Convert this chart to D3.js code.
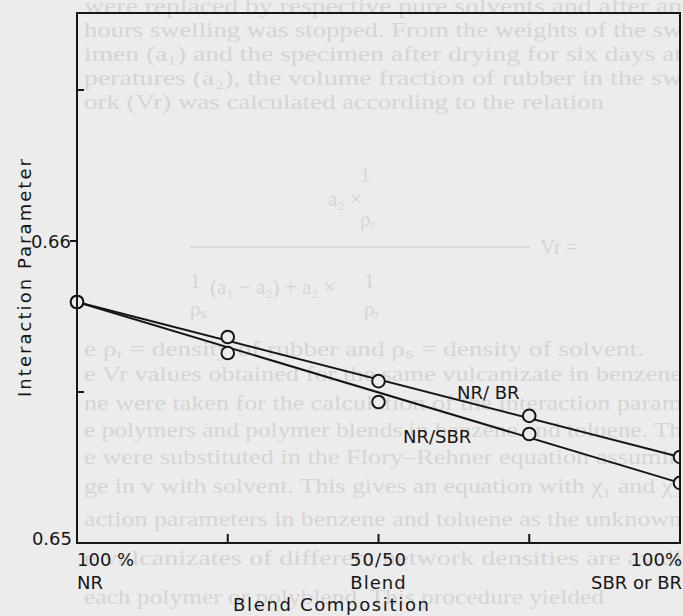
<!DOCTYPE html>
<html><head><meta charset="utf-8">
<script src="https://cdn.jsdelivr.net/npm/d3@7"></script>
<style>body{margin:0;background:#ececec;overflow:hidden}</style></head>
<body><svg id="c" width="683" height="616"></svg>
<script>
// ---- data ----
const composition = [0, 25, 50, 75, 100];
const nrBR  = [0.65798, 0.65682, 0.65536, 0.65421, 0.65285];
const nrSBR = [0.65798, 0.65629, 0.65467, 0.65361, 0.65199];
const fitX = [0, 100];
const fitBR  = [0.65798, 0.65285];
const fitSBR = [0.65798, 0.65199];
const yTicks = [0.65, 0.655, 0.66, 0.665];
const yTickLabels = ["0.65", "", "0.66", ""];
const xTicks = [25, 50, 75];
const xLabelPos = [0, 50, 100];
const xLabelTop = ["100 %", "50/50", "100%"];
const xLabelBottom = ["NR", "Blend", "SBR or BR"];
const seriesNames = ["NR/ BR", "NR/SBR"];
const xTitle = "Blend Composition";
const yTitle = "Interaction Parameter";
const pageLines = [
 "were replaced by respective pure solvents and after an",
 "hours swelling was stopped. From the weights of the sw",
 "imen (a\u2081) and the specimen after drying for six days at",
 "peratures (a\u2082), the volume fraction of rubber in the sw",
 "ork (Vr) was calculated according to the relation"
];
const pageLines2 = [
 "e \u03c1\u1d63 = density of rubber and \u03c1\u209b = density of solvent.",
 "e Vr values obtained for the same vulcanizate in benzene",
 "ne were taken for the calculation of the interaction param",
 "e polymers and polymer blends in benzene and toluene. Th",
 "e were substituted in the Flory\u2013Rehner equation assumin",
 "ge in v with solvent. This gives an equation with \u03c7\u2081 and \u03c7\u2082",
 "action parameters in benzene and toluene as the unknown",
 "e vulcanizates of different network densities are avail",
 "each polymer or polyblend. This procedure yielded"
];

const svg = d3.select("#c");
const W = 683, H = 616;
const L = 77, R = 680, T = 13, B = 543;
const BG = "#ececec", PAGE = "#d5d5d5", ink = "#161616";
const x = d3.scaleLinear().domain([0, 100]).range([L, R]);
const y = d3.scaleLinear().domain([0.65, 0.665]).range([B, 90]);

svg.append("rect").attr("width", W).attr("height", H).attr("fill", BG);

// faint show-through page text
const pg = svg.append("g").attr("fill", PAGE)
  .attr("font-family", "Liberation Serif, serif").attr("font-size", 21);
const topY = [13, 37, 61, 85, 109];
pageLines.forEach((t, i) => {
  pg.append("text").attr("x", 84).attr("y", topY[i]).text(t)
    .attr("textLength", i === 4 ? 520 : 598).attr("lengthAdjust", "spacingAndGlyphs");
});
const lowY = [356, 381, 410, 437, 464, 493, 526, 565, 604];
const lowLen = [560, 598, 598, 598, 598, 598, 598, 598, 520];
pageLines2.forEach((t, i) => {
  pg.append("text").attr("x", 84).attr("y", lowY[i]).text(t)
    .attr("textLength", lowLen[i]).attr("lengthAdjust", "spacingAndGlyphs");
});
// formula remnants
pg.append("text").attr("x", 360).attr("y", 182).text("1");
pg.append("text").attr("x", 328).attr("y", 206).text("a\u2082 \u00d7");
pg.append("text").attr("x", 360).attr("y", 226).text("\u03c1\u1d63");
pg.append("line").attr("x1", 190).attr("x2", 530).attr("y1", 247).attr("y2", 247)
  .attr("stroke", PAGE).attr("stroke-width", 1.5);
pg.append("text").attr("x", 540).attr("y", 254).text("Vr =");
pg.append("text").attr("x", 190).attr("y", 288).text("1");
pg.append("text").attr("x", 210).attr("y", 294).text("(a\u2081 \u2212 a\u2082) + a\u2082 \u00d7");
pg.append("text").attr("x", 364).attr("y", 288).text("1");
pg.append("text").attr("x", 190).attr("y", 316).text("\u03c1\u209b");
pg.append("text").attr("x", 364).attr("y", 316).text("\u03c1\u1d63");

const fontF = "DejaVu Sans, Verdana, sans-serif";
const FS = 18;

// frame
svg.append("rect").attr("x", L).attr("y", T).attr("width", R - L).attr("height", B - T)
  .attr("fill", "none").attr("stroke", ink).attr("stroke-width", 2);

// y ticks
yTicks.forEach((v, i) => {
  if (v === 0.65) return;
  const inward = yTickLabels[i] === "";
  svg.append("line").attr("x1", inward ? L : L - 7).attr("x2", inward ? L + 7 : L)
    .attr("y1", y(v)).attr("y2", y(v)).attr("stroke", ink).attr("stroke-width", 2);
});
svg.append("g").selectAll("text")
  .data(yTicks.map((v, i) => ({v, l: yTickLabels[i]})).filter(d => d.l))
  .join("text").attr("x", d => d.v === 0.65 ? 72 : 71).attr("y", d => y(d.v) + (d.v === 0.65 ? 2 : 7))
  .attr("text-anchor", "end").attr("font-family", fontF).attr("font-size", FS)
  .attr("fill", ink).text(d => d.l);

// x ticks
svg.append("g").selectAll("line").data(xTicks).join("line")
  .attr("x1", d => x(d)).attr("x2", d => x(d)).attr("y1", B).attr("y2", B - 9)
  .attr("stroke", ink).attr("stroke-width", 2);

// x labels
const anchors = ["start", "middle", "end"];
const labelX = p => p === 100 ? 682 : x(p);
xLabelPos.forEach((p, i) => {
  svg.append("text").attr("x", labelX(p)).attr("y", 566)
    .attr("text-anchor", anchors[i]).attr("font-family", fontF).attr("font-size", FS)
    .attr("letter-spacing", i === 1 ? 1 : 0).attr("fill", ink).text(xLabelTop[i]);
  svg.append("text").attr("x", labelX(p)).attr("y", 589)
    .attr("text-anchor", anchors[i]).attr("font-family", fontF).attr("font-size", FS)
    .attr("letter-spacing", i === 1 ? 1 : 0).attr("fill", ink).text(xLabelBottom[i]);
});
svg.append("text").attr("x", 233).attr("y", 611)
  .attr("textLength", 196).attr("lengthAdjust", "spacing")
  .attr("font-family", fontF).attr("font-size", FS).attr("fill", ink).text(xTitle);
svg.append("text").attr("transform", "translate(31,397) rotate(-90)")
  .attr("textLength", 238).attr("lengthAdjust", "spacing")
  .attr("font-family", fontF).attr("font-size", FS).attr("fill", ink).text(yTitle);

// trend lines
const line = d3.line().x(d => x(d[0])).y(d => y(d[1]));
[fitBR, fitSBR].forEach(f => {
  svg.append("path").datum(fitX.map((v, i) => [v, f[i]])).attr("d", line)
    .attr("fill", "none").attr("stroke", ink).attr("stroke-width", 2);
});

// points
[nrBR, nrSBR].forEach(s => {
  svg.append("g").selectAll("circle").data(composition.map((c, i) => [c, s[i]])).join("circle")
    .attr("cx", d => x(d[0])).attr("cy", d => y(d[1])).attr("r", 6.3)
    .attr("fill", BG).attr("stroke", ink).attr("stroke-width", 2);
});
// axes drawn over edge points
svg.append("line").attr("x1", L).attr("x2", L).attr("y1", T).attr("y2", B)
  .attr("stroke", ink).attr("stroke-width", 2);
svg.append("line").attr("x1", R).attr("x2", R).attr("y1", T).attr("y2", B)
  .attr("stroke", ink).attr("stroke-width", 2);
svg.append("rect").attr("x", R + 1).attr("y", 0).attr("width", W - R).attr("height", B)
  .attr("fill", BG);

// series labels
svg.append("text").attr("x", 457).attr("y", 399).attr("font-family", fontF).attr("font-size", FS)
  .attr("fill", ink).text(seriesNames[0]);
svg.append("text").attr("x", 403).attr("y", 443).attr("font-family", fontF).attr("font-size", FS)
  .attr("fill", ink).text(seriesNames[1]);
</script></body></html>
